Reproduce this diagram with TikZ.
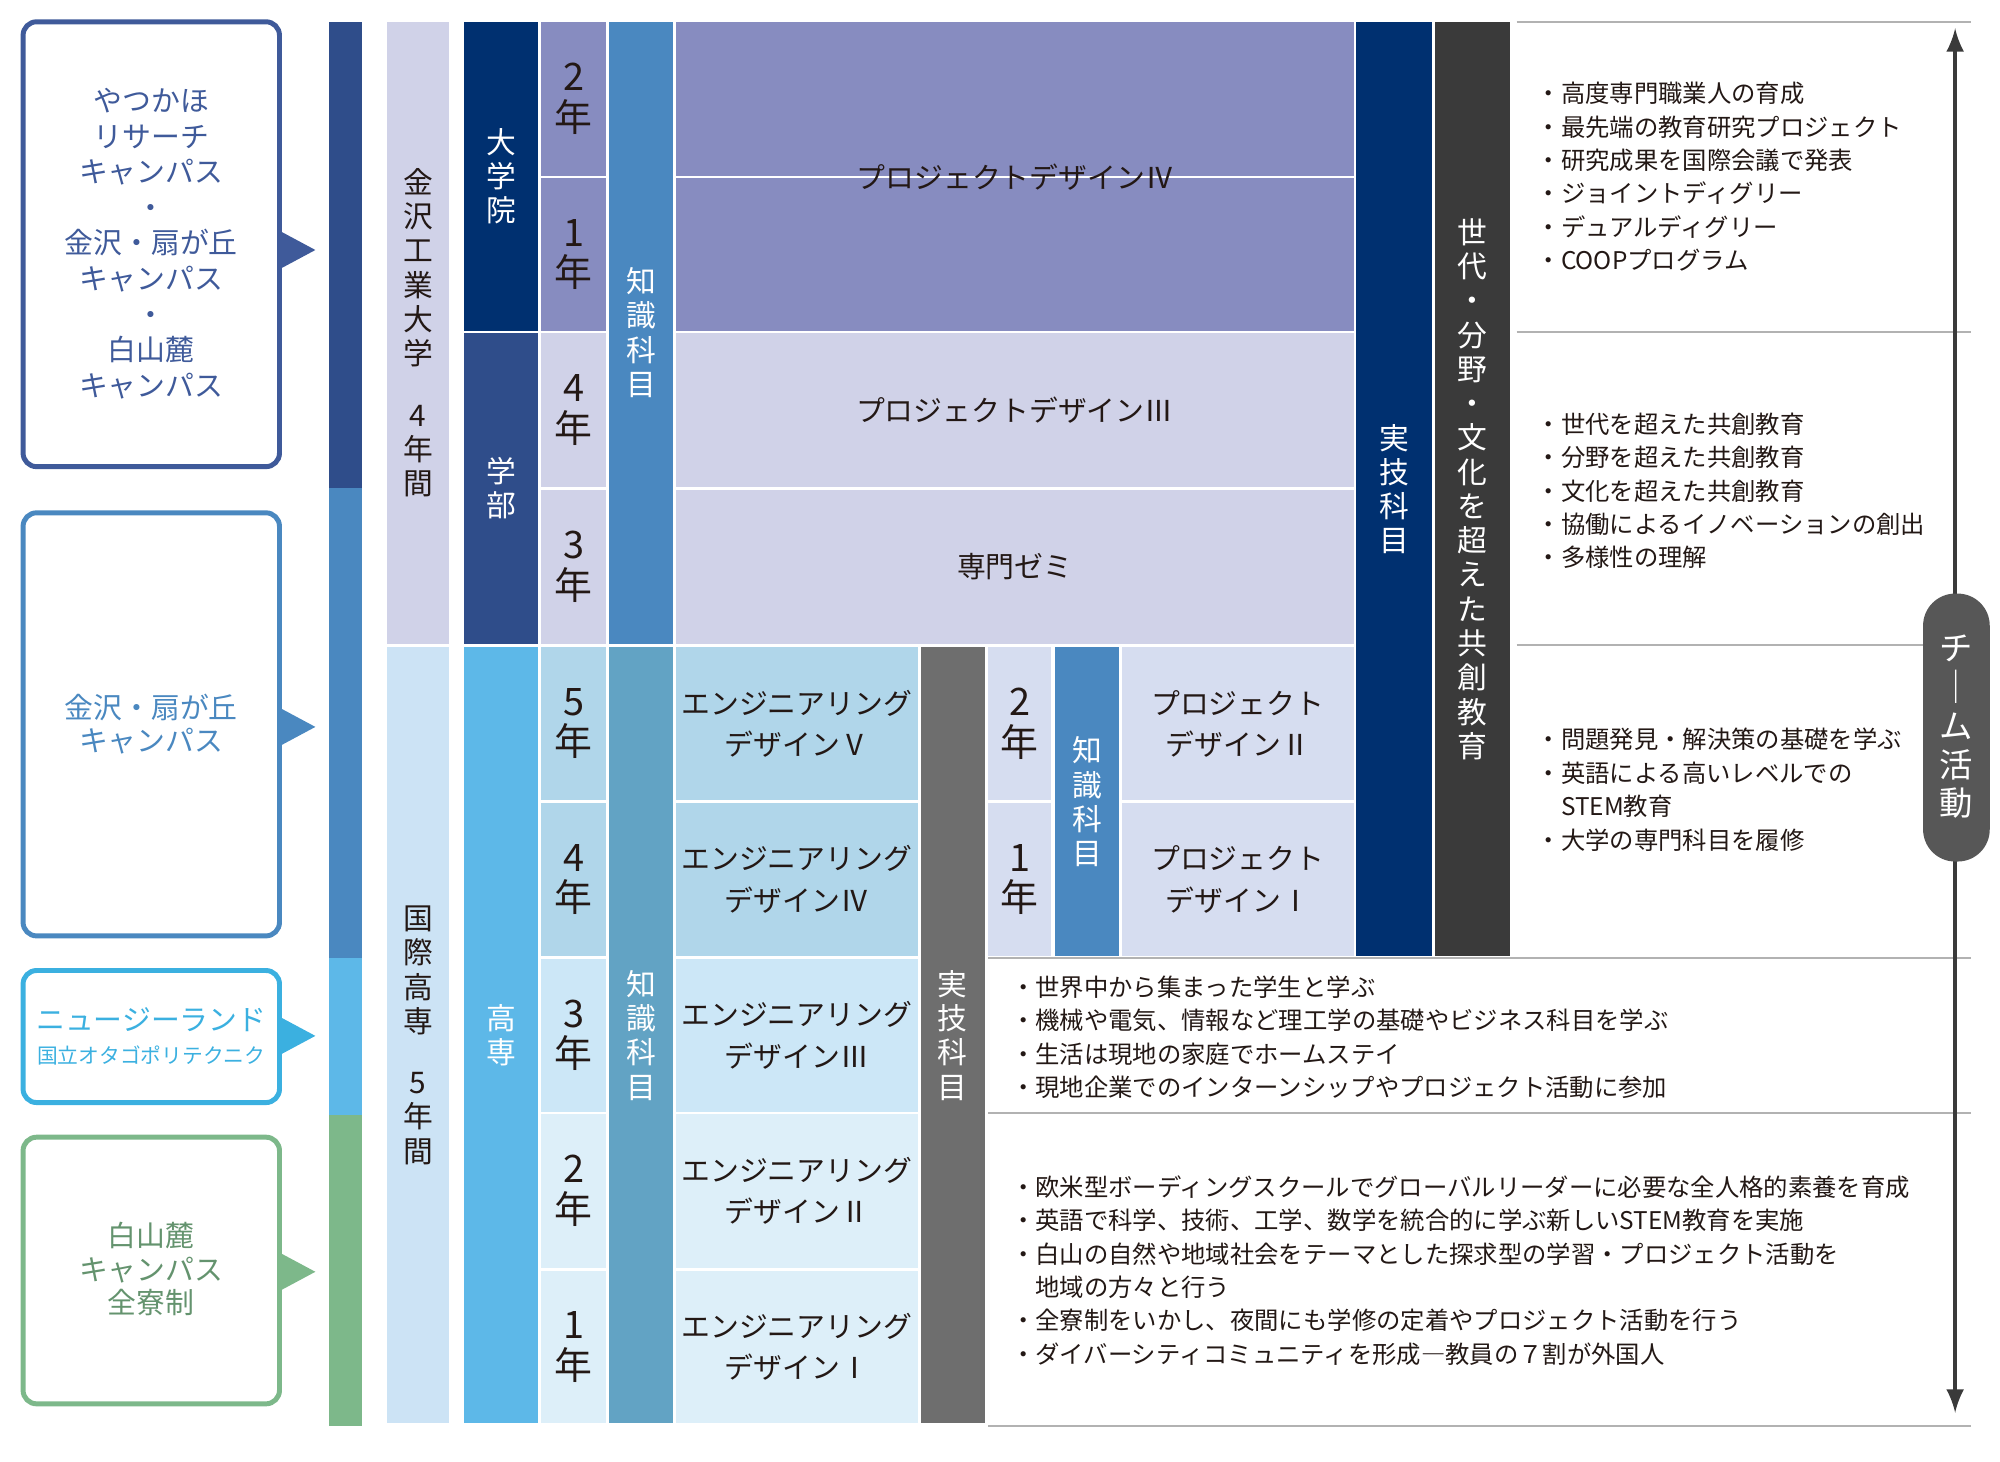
\documentclass[tikz,border=0pt]{standalone}
\usepackage{fontspec}
\setmainfont{Noto Sans CJK JP}
\usetikzlibrary{positioning}
\usetikzlibrary{calc}

\definecolor{navy}{HTML}{003070}
\definecolor{dkblue}{HTML}{2F4D8A}
\definecolor{boxblue}{HTML}{3F5A9A}
\definecolor{midblue}{HTML}{4A88C0}
\definecolor{skyblue}{HTML}{5DB8E8}
\definecolor{nzblue}{HTML}{3BB0E0}
\definecolor{tealblue}{HTML}{62A3C4}
\definecolor{lavender}{HTML}{878CC0}
\definecolor{palelav}{HTML}{D0D2E8}
\definecolor{paleblue}{HTML}{CCE3F5}
\definecolor{iceA}{HTML}{B0D6EA}
\definecolor{iceB}{HTML}{CCE7F7}
\definecolor{iceC}{HTML}{DDEFF9}
\definecolor{iceD}{HTML}{D6DDF0}
\definecolor{greenish}{HTML}{7DB88A}
\definecolor{dkgray}{HTML}{6E6E6E}
\definecolor{charcoal}{HTML}{3A3A3A}
\definecolor{txt}{HTML}{231815}

% block: name, x1, y1, x2, y2, fill, node style, text
\newcommand{\blk}[8]{%
    \fill[#6] (#2,#3) rectangle (#4,#5);
    \node[#7] (#1) at ({(#2+#4)/2},{(#3+#5)/2}) {#8};}

\begin{document}
\begin{tikzpicture}[
        x=0.01cm, y=-0.01cm,
        vert/.style={
            align=center,
            inner sep=0pt,
            font=\fontsize{6.6}{7.6}\selectfont,
        },
        year/.style={
            align=center,
            inner sep=0pt,
            text=txt,
            font=\fontsize{8.4}{9}\selectfont,
        },
        mid/.style={
            align=center,
            inner sep=0pt,
            text=txt,
            font=\fontsize{6.4}{9.2}\selectfont,
        },
        bullets/.style={
            anchor=west,
            align=left,
            inner sep=0pt,
            text=txt,
            font=\fontsize{5.4}{7.4}\selectfont,
        },
        campus/.style={
            draw,
            line width=1.1pt,
            rounded corners=3pt,
        },
        rule/.style={
            draw=gray!60,
            line width=0.5pt,
        },
    ]
    \useasboundingbox (0,0) rectangle (1560,1140);

    % Campus boxes.
    \draw[campus, boxblue] (18,17) rectangle (218,364);
    \draw[campus, midblue] (18,400) rectangle (218,730);
    \draw[campus, nzblue] (18,757) rectangle (218,860);
    \draw[campus, greenish] (18,887) rectangle (218,1095);

    \fill[boxblue] (218,180) -- (246,195) -- (218,210) -- cycle;
    \fill[midblue] (218,552) -- (246,567) -- (218,582) -- cycle;
    \fill[nzblue] (218,793) -- (246,808) -- (218,823) -- cycle;
    \fill[greenish] (218,977) -- (246,992) -- (218,1007) -- cycle;

    \node[align=center, text=boxblue, font=\fontsize{6.4}{7.9}\selectfont] (c1) at (118,190)
        {やつかほ\\リサーチ\\キャンパス\\・\\金沢・扇が丘\\キャンパス\\・\\白山麓\\キャンパス};
    \node[align=center, text=midblue, font=\fontsize{6.4}{7.4}\selectfont] (c2) at (118,565)
        {金沢・扇が丘\\キャンパス};
    \node[text=nzblue, font=\fontsize{6.4}{7.4}\selectfont] (c3) at (118,795) {ニュージーランド};
    \node[text=nzblue, font=\fontsize{4.6}{5.4}\selectfont] (c3s) at (118,823) {国立オタゴポリテクニク};
    \node[align=center, text=greenish!80!black, font=\fontsize{6.4}{7.4}\selectfont] (c4) at (118,990)
        {白山麓\\キャンパス\\全寮制};

    % Colour bar.
    \fill[dkblue] (257,17) rectangle (282,381);
    \fill[midblue] (257,381) rectangle (282,747);
    \fill[skyblue] (257,747) rectangle (282,870);
    \fill[greenish] (257,870) rectangle (282,1112);

    % Schools.
    \blk{kit}{302}{17}{350}{502}{palelav}{vert, text=txt}{金\\沢\\工\\業\\大\\学\\[6pt]4\\年\\間}
    \blk{kosen}{302}{505}{350}{1110}{paleblue}{vert, text=txt}{国\\際\\高\\専\\[6pt]5\\年\\間}

    \blk{grad}{362}{17}{420}{258}{navy}{vert, text=white}{大\\学\\院}
    \blk{under}{362}{260}{420}{502}{dkblue}{vert, text=white}{学\\部}
    \blk{kos}{362}{505}{420}{1110}{skyblue}{vert, text=white}{高\\専}

    % Years.
    \blk{g2}{422}{17}{473}{137}{lavender}{year}{2\\年}
    \blk{g1}{422}{139}{473}{258}{lavender}{year}{1\\年}
    \blk{u4}{422}{260}{473}{380}{palelav}{year}{4\\年}
    \blk{u3}{422}{382}{473}{502}{palelav}{year}{3\\年}
    \blk{k5}{422}{505}{473}{624}{iceA}{year}{5\\年}
    \blk{k4}{422}{626}{473}{746}{iceA}{year}{4\\年}
    \blk{k3}{422}{748}{473}{867}{iceB}{year}{3\\年}
    \blk{k2}{422}{869}{473}{989}{iceC}{year}{2\\年}
    \blk{k1}{422}{991}{473}{1110}{iceC}{year}{1\\年}

    \blk{know1}{475}{17}{525}{502}{midblue}{vert, text=white}{知\\識\\科\\目}
    \blk{know2}{475}{505}{525}{1110}{tealblue}{vert, text=white}{知\\識\\科\\目}

    % Projects.
    \fill[lavender] (527,17) rectangle (1056,258);
    \draw[white, line width=0.6pt] (527,138) -- (1056,138);
    \node[mid] (pd4) at (792,138) {プロジェクトデザインⅣ};
    \blk{pd3}{527}{260}{1056}{380}{palelav}{mid}{プロジェクトデザインⅢ}
    \blk{zemi}{527}{382}{1056}{502}{palelav}{mid}{専門ゼミ}

    \blk{ed5}{527}{505}{716}{624}{iceA}{mid}{エンジニアリング\\デザインⅤ}
    \blk{ed4}{527}{626}{716}{746}{iceA}{mid}{エンジニアリング\\デザインⅣ}
    \blk{ed3}{527}{748}{716}{867}{iceB}{mid}{エンジニアリング\\デザインⅢ}
    \blk{ed2}{527}{869}{716}{989}{iceC}{mid}{エンジニアリング\\デザインⅡ}
    \blk{ed1}{527}{991}{716}{1110}{iceC}{mid}{エンジニアリング\\デザインⅠ}

    \blk{prac1}{718}{505}{768}{1110}{dkgray}{vert, text=white}{実\\技\\科\\目}

    \blk{n2}{771}{505}{820}{624}{iceD}{year}{2\\年}
    \blk{n1}{771}{626}{820}{746}{iceD}{year}{1\\年}
    \blk{know3}{823}{505}{873}{746}{midblue}{vert, text=white}{知\\識\\科\\目}
    \blk{pd2}{875}{505}{1056}{624}{iceD}{mid}{プロジェクト\\デザインⅡ}
    \blk{pd1}{875}{626}{1056}{746}{iceD}{mid}{プロジェクト\\デザインⅠ}

    \blk{prac2}{1058}{17}{1117}{746}{navy}{vert, text=white}{実\\技\\科\\目}
    \blk{cocreate}{1119}{17}{1178}{746}{charcoal}{vert, text=white}{世\\代\\・\\分\\野\\・\\文\\化\\を\\超\\え\\た\\共\\創\\教\\育}

    % Rules.
    \draw[rule] (1183,17) -- (1537,17);
    \draw[rule] (1183,259) -- (1537,259);
    \draw[rule] (1183,503) -- (1537,503);
    \draw[rule] (771,747) -- (1537,747);
    \draw[rule] (771,868) -- (1537,868);
    \draw[rule] (771,1112) -- (1537,1112);

    % Bullet texts.
    \node[bullets] (b1) at (1198,138) {・高度専門職業人の育成\\・最先端の教育研究プロジェクト\\・研究成果を国際会議で発表\\・ジョイントディグリー\\・デュアルディグリー\\・COOPプログラム};
    \node[bullets] (b2) at (1198,383) {・世代を超えた共創教育\\・分野を超えた共創教育\\・文化を超えた共創教育\\・協働によるイノベーションの創出\\・多様性の理解};
    \node[bullets] (b3) at (1198,616) {・問題発見・解決策の基礎を学ぶ\\・英語による高いレベルでの\\\hphantom{・}STEM教育\\・大学の専門科目を履修};
    \node[bullets] (b4) at (788,809) {・世界中から集まった学生と学ぶ\\・機械や電気、情報など理工学の基礎やビジネス科目を学ぶ\\・生活は現地の家庭でホームステイ\\・現地企業でのインターンシップやプロジェクト活動に参加};
    \node[bullets] (b5) at (788,991) {・欧米型ボーディングスクールでグローバルリーダーに必要な全人格的素養を育成\\・英語で科学、技術、工学、数学を統合的に学ぶ新しいSTEM教育を実施\\・白山の自然や地域社会をテーマとした探求型の学習・プロジェクト活動を\\\hphantom{・}地域の方々と行う\\・全寮制をいかし、夜間にも学修の定着やプロジェクト活動を行う\\・ダイバーシティコミュニティを形成―教員の７割が外国人};

    % Team activity.
    \coordinate (top) at (1525,22);
    \coordinate (bot) at (1525,1102);
    \draw[<->, >=latex, line width=0.8pt, charcoal] (top) -- (bot);
    \fill[charcoal!85, rounded corners=0.25cm] (1500,463) rectangle (1552,672);
    \node[vert, text=white, font=\fontsize{7.4}{8.6}\selectfont] (team) at (1526,567) {チ\\｜\\ム\\活\\動};
\end{tikzpicture}
\end{document}
